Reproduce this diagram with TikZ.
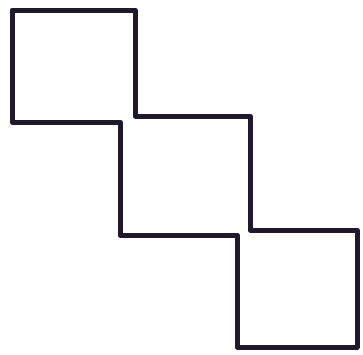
\documentclass[tikz,border=0pt]{standalone}
\definecolor{inkc}{RGB}{32,24,44}
\begin{document}
\begin{tikzpicture}[x=1pt,y=-1pt,
  outline/.style={draw=inkc,line width=5pt,line join=round}]
\useasboundingbox (0,0) rectangle (363,354);
\draw[outline] (12,10) -- (135,10) -- (135,116) -- (250,116) -- (250,230)
  -- (357,230) -- (357,347) -- (237,347) -- (237,235) -- (120,235)
  -- (120,122) -- (12,122) -- cycle;
\end{tikzpicture}
\end{document}
